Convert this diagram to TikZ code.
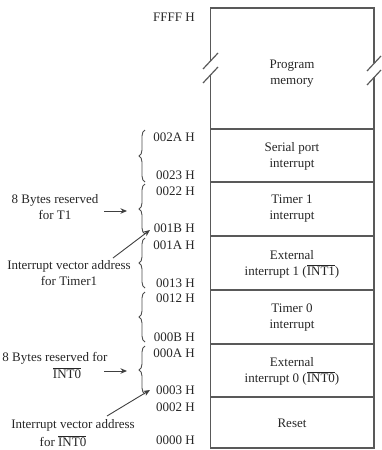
\documentclass[tikz,border=0pt]{standalone}
\usepackage{fontspec}
\setmainfont{Liberation Serif}
\usetikzlibrary{decorations.pathreplacing,arrows.meta}
\begin{document}
\begin{tikzpicture}[x=1pt,y=-1pt,
  frame/.style={draw=black!65,line width=1.2pt},
  txt/.style={text=black!85,font=\fontsize{13}{16}\selectfont,inner sep=0pt,align=center},
  addr/.style={txt,anchor=east},
  brc/.style={draw=black!70,line width=0.9pt,decorate,decoration={brace,amplitude=6pt}},
  pointer/.style={draw=black!75,line width=0.9pt,-{Stealth[length=6.5pt,width=5.5pt]}}]
\useasboundingbox (0,0) rectangle (382,450);

% memory map outline, with break marks on both sides of the program area
\draw[frame] (210.5,61) -- (210.5,8) -- (374,8) -- (374,63);
\draw[frame] (210.5,75) -- (210.5,448) -- (374,448) -- (374,77);
\draw[frame] (203,69) -- (218,53);
\draw[frame] (203,83) -- (218,67);
\draw[frame] (367,71) -- (381,56);
\draw[frame] (367,85) -- (381,70);
\foreach \yy in {129,182,236,290,344,397}
  \draw[frame] (210.5,\yy) -- (374,\yy);

% region names
\node[txt] (prog) at (292,74) {Program\\memory};
\node[txt] (serial) at (292,156) {Serial port\\interrupt};
\node[txt] (tmr1) at (292,209) {Timer 1\\interrupt};
\node[txt] (ext1) at (292,264) {External\\interrupt 1 ($\overline{\hbox{INT1}}$)};
\node[txt] (tmr0) at (292,318) {Timer 0\\interrupt};
\node[txt] (ext0) at (292,371.5) {External\\interrupt 0 ($\overline{\hbox{INT0}}$)};
\node[txt] (reset) at (292,423) {Reset};

% addresses
\node[addr] (aFFFF) at (195,17) {FFFF H};
\node[addr] (a002A) at (195,137) {002A H};
\node[addr] (a0023) at (195,175) {0023 H};
\node[addr] (a0022) at (195,191) {0022 H};
\node[addr] (a001B) at (195,228) {001B H};
\node[addr] (a001A) at (195,245) {001A H};
\node[addr] (a0013) at (195,283) {0013 H};
\node[addr] (a0012) at (195,298) {0012 H};
\node[addr] (a000B) at (195,337) {000B H};
\node[addr] (a000A) at (195,353) {000A H};
\node[addr] (a0003) at (195,390) {0003 H};
\node[addr] (a0002) at (195,407) {0002 H};
\node[addr] (a0000) at (195,440) {0000 H};

% 8-byte blocks
\draw[brc] (145,182) -- (145,130);
\draw[brc] (145,234) -- (145,184);
\draw[brc] (145,288) -- (145,238);
\draw[brc] (145,342) -- (145,292);
\draw[brc] (145,394) -- (145,346);

% annotations
\node[txt] (t1bytes) at (55,207.5) {8 Bytes reserved\\for T1};
\node[txt] (t1vec) at (69,273) {Interrupt vector address\\for Timer1};
\node[txt] (i0bytes) at (55,358) {8 Bytes reserved for};
\node[txt] (i0bytesb) at (67,373) {$\overline{\hbox{INT0}}$};
\node[txt] (i0vec) at (73,425) {Interrupt vector address};
\node[txt] (i0vecb) at (63,441) {for $\overline{\hbox{INT0}}$};

\coordinate (t1from) at (104,211);
\coordinate (t1to) at (127,211);
\coordinate (t1vfrom) at (113,258);
\coordinate (t1vto) at (150,230);
\coordinate (i0from) at (104,371);
\coordinate (i0to) at (127,371);
\coordinate (i0vfrom) at (107,416);
\coordinate (i0vto) at (150,390);

\draw[pointer] (t1from) -- (t1to);
\draw[pointer] (t1vfrom) -- (t1vto);
\draw[pointer] (i0from) -- (i0to);
\draw[pointer] (i0vfrom) -- (i0vto);
\end{tikzpicture}
\end{document}
